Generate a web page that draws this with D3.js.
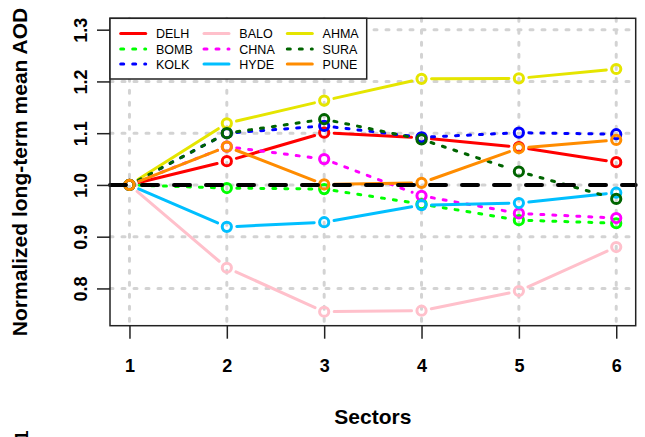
<!DOCTYPE html>
<html>
<head>
<meta charset="utf-8">
<script src="https://cdn.jsdelivr.net/npm/d3@7"></script>
<style>
  html, body { margin: 0; padding: 0; background: #fff; }
  svg { display: block; }
  text { font-family: "Liberation Sans", Arial, sans-serif; }
</style>
</head>
<body>
<svg id="chart" width="645" height="437"></svg>
<script>
// ---- data ----
const sectors = [1, 2, 3, 4, 5, 6];
const seriesNames = ["DELH", "BOMB", "KOLK", "BALO", "CHNA", "HYDE", "AHMA", "SURA", "PUNE"];
const DELH = [1, 1.046, 1.101, 1.091, 1.073, 1.044];
const BOMB = [1, 0.994, 0.992, 0.963, 0.932, 0.926];
const KOLK = [1, 1.100, 1.114, 1.092, 1.101, 1.098];
const BALO = [1, 0.840, 0.755, 0.757, 0.795, 0.880];
const CHNA = [1, 1.074, 1.050, 0.979, 0.945, 0.936];
const HYDE = [1, 0.919, 0.928, 0.961, 0.965, 0.985];
const AHMA = [1, 1.119, 1.163, 1.205, 1.206, 1.224];
const SURA = [1, 1.100, 1.127, 1.088, 1.026, 0.973];
const PUNE = [1, 1.074, 1.001, 1.004, 1.071, 1.087];
const yTicks = [0.8, 0.9, 1.0, 1.1, 1.2, 1.3];
const yTickLabels = ["0.8", "0.9", "1.0", "1.1", "1.2", "1.3"];
const xTickLabels = ["1", "2", "3", "4", "5", "6"];
const referenceLevel = 1.0;

const seriesValues = [DELH, BOMB, KOLK, BALO, CHNA, HYDE, AHMA, SURA, PUNE];
const seriesColors = ["#FF0000", "#00FF00", "#0000FF", "#FFC0CB", "#FF00FF", "#00BFFF", "#E5E500", "#006400", "#FF8C00"];
const seriesDotted = [false, true, true, false, true, false, false, true, false];

// ---- layout ----
const svg = d3.select("#chart");
const plot = { left: 110, right: 635.7, top: 18.3, bottom: 325.7 };

const x = d3.scaleLinear().domain([0.8, 6.2]).range([plot.left, plot.right]);
const yMin = 0.75, yMax = 1.3, ext = (yMax - yMin) * 0.04;
const y = d3.scaleLinear().domain([yMin - ext, yMax + ext]).range([plot.bottom, plot.top]);

// grid
const grid = svg.append("g");
grid.selectAll("line.vg").data(sectors).enter().append("line")
  .attr("x1", d => x(d)).attr("x2", d => x(d))
  .attr("y1", plot.top).attr("y2", plot.bottom)
  .attr("stroke", "#D3D3D3").attr("stroke-width", 3)
  .attr("stroke-dasharray", "3,9").attr("stroke-linecap", "round");
grid.selectAll("line.hg").data(yTicks).enter().append("line")
  .attr("x1", plot.left).attr("x2", plot.right)
  .attr("y1", d => y(d)).attr("y2", d => y(d))
  .attr("stroke", "#D3D3D3").attr("stroke-width", 3)
  .attr("stroke-dasharray", "3,9").attr("stroke-linecap", "round");

// series (type = "b": lines with gaps around points)
const gap = 10;
svg.append("clipPath").attr("id", "pc").append("rect")
  .attr("x", plot.left).attr("y", plot.top)
  .attr("width", plot.right - plot.left).attr("height", plot.bottom - plot.top);
const marks = svg.append("g").attr("clip-path", "url(#pc)");

seriesValues.forEach((vals, si) => {
  const g = marks.append("g");
  const pts = vals.map((v, i) => [x(sectors[i]), y(v)]);
  const segs = [];
  for (let i = 0; i < pts.length - 1; i++) {
    const [x0, y0] = pts[i], [x1, y1] = pts[i + 1];
    const dx = x1 - x0, dy = y1 - y0, L = Math.hypot(dx, dy);
    if (L > 2 * gap) {
      segs.push([x0 + dx / L * gap, y0 + dy / L * gap, x1 - dx / L * gap, y1 - dy / L * gap]);
    }
  }
  g.selectAll("line").data(segs).enter().append("line")
    .attr("x1", d => d[0]).attr("y1", d => d[1]).attr("x2", d => d[2]).attr("y2", d => d[3])
    .attr("stroke", seriesColors[si]).attr("stroke-width", 3)
    .attr("stroke-linecap", "round")
    .attr("stroke-dasharray", seriesDotted[si] ? "3,9" : null);
  g.selectAll("circle").data(vals).enter().append("circle")
    .attr("cx", (d, i) => x(sectors[i])).attr("cy", d => y(d)).attr("r", 4.6)
    .attr("fill", "none").attr("stroke", seriesColors[si]).attr("stroke-width", 3);
});

// reference line
svg.append("line")
  .attr("x1", plot.left).attr("x2", plot.right)
  .attr("y1", y(referenceLevel)).attr("y2", y(referenceLevel))
  .attr("stroke", "#000").attr("stroke-width", 4)
  .attr("stroke-dasharray", "16,16").attr("stroke-linecap", "round");

// box
svg.append("rect").attr("x", plot.left).attr("y", plot.top)
  .attr("width", plot.right - plot.left).attr("height", plot.bottom - plot.top)
  .attr("fill", "none").attr("stroke", "#222").attr("stroke-width", 1.5);

// x axis
const xAxis = d3.axisBottom(x).tickValues(sectors).tickFormat((d, i) => xTickLabels[i])
  .tickSizeInner(13).tickSizeOuter(0).tickPadding(21);
const xg = svg.append("g").attr("transform", `translate(0,${plot.bottom})`).call(xAxis);
xg.select(".domain").remove();
xg.selectAll(".tick line").attr("stroke", "#222").attr("stroke-width", 1.5);
xg.selectAll(".tick text").attr("font-size", 18).attr("font-weight", "bold")
  .attr("fill", "#000").attr("font-family", "Liberation Sans, Arial, sans-serif");

// y axis
const yAxis = d3.axisLeft(y).tickValues(yTicks).tickFormat((d, i) => yTickLabels[i])
  .tickSizeInner(13).tickSizeOuter(0);
const yg = svg.append("g").attr("transform", `translate(${plot.left},0)`).call(yAxis);
yg.select(".domain").remove();
yg.selectAll(".tick line").attr("stroke", "#222").attr("stroke-width", 1.5);
yg.selectAll(".tick text").attr("font-size", 18).attr("font-weight", "bold")
  .attr("fill", "#000").attr("font-family", "Liberation Sans, Arial, sans-serif")
  .attr("x", null).attr("dy", null)
  .attr("text-anchor", "middle")
  .attr("transform", "translate(-23,0) rotate(-90)");

// axis titles
svg.append("text").attr("x", (plot.left + plot.right) / 2).attr("y", 424)
  .attr("text-anchor", "middle").attr("font-size", 21).attr("font-weight", "bold")
  .text("Sectors");
svg.append("text")
  .attr("transform", `translate(27,${(plot.top + plot.bottom) / 2}) rotate(-90)`)
  .attr("text-anchor", "middle").attr("font-size", 21).attr("font-weight", "bold")
  .text("Normalized long-term mean AOD");

// stray clipped label at bottom-left (partly outside the frame, as in the reference)
svg.append("text").attr("transform", "translate(28,441) rotate(-90)")
  .attr("font-size", 19).attr("font-weight", "bold").text("1");

// legend
const leg = svg.append("g");
leg.append("rect").attr("x", plot.left).attr("y", plot.top)
  .attr("width", 366.7 - plot.left).attr("height", 79 - plot.top)
  .attr("fill", "#fff").attr("stroke", "#222").attr("stroke-width", 1.5);
const colX = [120.7, 204, 287.3];
const rowY = [33.5, 49, 64];
seriesNames.forEach((name, i) => {
  const c = Math.floor(i / 3), r = i % 3;
  leg.append("line").attr("x1", colX[c]).attr("x2", colX[c] + 25)
    .attr("y1", rowY[r]).attr("y2", rowY[r])
    .attr("stroke", seriesColors[i]).attr("stroke-width", 3)
    .attr("stroke-linecap", "round")
    .attr("stroke-dasharray", seriesDotted[i] ? "3,9" : null);
  leg.append("text").attr("x", colX[c] + 35.3).attr("y", rowY[r] + 4.5)
    .attr("font-size", 12.5).attr("fill", "#000").text(name);
});
</script>
</body>
</html>
